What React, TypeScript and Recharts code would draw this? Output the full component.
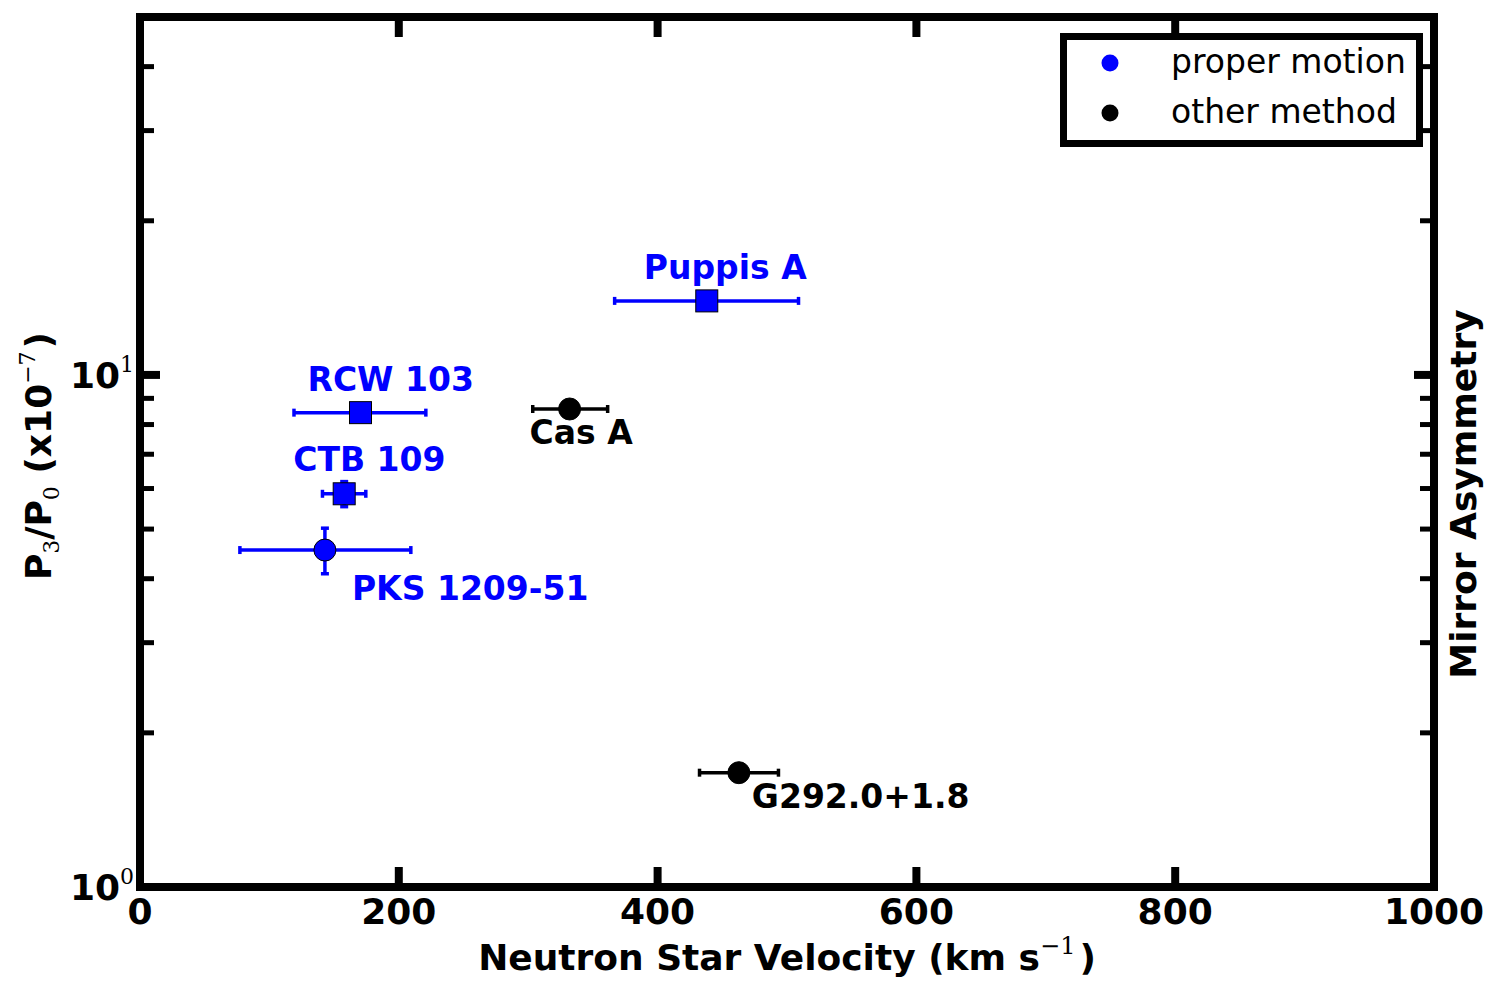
import React from 'react';
import { ScatterChart, Scatter, XAxis, YAxis, ErrorBar, ReferenceArea, Legend, Label } from 'recharts';

// ---- data ----
const SOURCES = ['Puppis A', 'RCW 103', 'CTB 109', 'PKS 1209-51', 'Cas A', 'G292.0+1.8'];
const METHODS = ['proper motion', 'proper motion', 'proper motion', 'proper motion', 'other method', 'other method'];
const VELOCITY = [438, 170.4, 157.8, 142.9, 332, 462.8];
const VELOCITY_LOW = [366.8, 119, 141, 77.2, 303.5, 432.4];
const VELOCITY_HIGH = [508.9, 220.9, 174.5, 209.3, 361.4, 493.4];
const RATIO = [13.95, 8.44, 5.86, 4.55, 8.58, 1.672];
const RATIO_LOW = [13.95, 8.44, 5.53, 4.09, 8.58, 1.672];
const RATIO_HIGH = [13.95, 8.44, 6.19, 5.02, 8.58, 1.672];

const X_TICKS = [0, 200, 400, 600, 800, 1000];
const Y_TICKS = [1, 2, 3, 4, 5, 6, 7, 8, 9, 10, 20, 30, 40];
const Y_DECADES: Record<number, string> = { 1: '0', 10: '1' };

const SERIES = [
  { method: 'proper motion', color: '#0000ff' },
  { method: 'other method', color: '#000000' },
];

// ---- styling ----
const MARKER_SHAPE: Record<string, 'square' | 'circle'> = {
  'Puppis A': 'square',
  'RCW 103': 'square',
  'CTB 109': 'square',
  'PKS 1209-51': 'circle',
  'Cas A': 'circle',
  'G292.0+1.8': 'circle',
};
// text start / baseline, relative to the marker centre
const LABEL_OFFSET: Record<string, [number, number]> = {
  'Puppis A': [-63, -22],
  'RCW 103': [-53, -22],
  'CTB 109': [-51, -23],
  'PKS 1209-51': [27, 50],
  'Cas A': [-40, 35],
  'G292.0+1.8': [13, 35],
};

const SANS = "'DejaVu Sans', 'Liberation Sans', sans-serif";
const SERIF = "'DejaVu Serif', 'Liberation Serif', serif";

const CHART_W = 1483;
const CHART_H = 985;
const PLOT_LEFT = 132;
const PLOT_RIGHT = 1426;
const PLOT_TOP = 9;
const PLOT_BOTTOM = 879;
const MARKER = 22;

const rows = SOURCES.map((name, i) => ({
  name,
  method: METHODS[i],
  x: VELOCITY[i],
  y: RATIO[i],
  xErr: [VELOCITY[i] - VELOCITY_LOW[i], VELOCITY_HIGH[i] - VELOCITY[i]],
  yErr: [RATIO[i] - RATIO_LOW[i], RATIO_HIGH[i] - RATIO[i]],
}));

const XTick = (props: any) => {
  const { x, payload } = props;
  return (
    <g>
      <line x1={x} x2={x} y1={PLOT_BOTTOM} y2={PLOT_BOTTOM - 20} stroke="#000" strokeWidth={8} />
      <line x1={x} x2={x} y1={PLOT_TOP} y2={PLOT_TOP + 20} stroke="#000" strokeWidth={8} />
      <text x={x} y={PLOT_BOTTOM + 37} textAnchor="middle" fontFamily={SANS} fontWeight="bold" fontSize={36} fill="#000">
        {payload.value}
      </text>
    </g>
  );
};

const YTick = (props: any) => {
  const { y, payload } = props;
  const exp = Y_DECADES[payload.value];
  const major = exp !== undefined;
  const len = major ? 20 : 14;
  const w = major ? 8 : 5;
  return (
    <g>
      <line x1={PLOT_LEFT} x2={PLOT_LEFT + len} y1={y} y2={y} stroke="#000" strokeWidth={w} />
      <line x1={PLOT_RIGHT} x2={PLOT_RIGHT - len} y1={y} y2={y} stroke="#000" strokeWidth={w} />
      {major && (
        <text x={PLOT_LEFT - 6} y={y + 13} textAnchor="end" fontFamily={SANS} fontWeight="bold" fontSize={36} fill="#000">
          10
          <tspan fontFamily={SERIF} fontWeight="normal" fontSize={22} dy={-16}>
            {exp}
          </tspan>
        </text>
      )}
    </g>
  );
};

const makePoint = (color: string) => (props: any) => {
  const { cx, cy, payload } = props;
  if (cx == null || cy == null) return <g />;
  const name: string = payload.name;
  const [dx, dy] = LABEL_OFFSET[name];
  const h = MARKER / 2;
  return (
    <g>
      {MARKER_SHAPE[name] === 'square' ? (
        <rect x={cx - h} y={cy - h} width={MARKER} height={MARKER} fill={color} stroke="#000" strokeWidth={1} />
      ) : (
        <circle cx={cx} cy={cy} r={h} fill={color} stroke="#000" strokeWidth={1} />
      )}
      <text x={cx + dx} y={cy + dy} fill={color} fontFamily={SANS} fontWeight="bold" fontSize={33}>
        {name}
      </text>
    </g>
  );
};

// legend entries keep the series order
const LegendBox = (props: any) => {
  const fromPayload = new Map<string, string>();
  (props.payload || []).forEach((p: any) => fromPayload.set(p.value, p.color));
  const items = SERIES.map((s) => ({ method: s.method, color: fromPayload.get(s.method) || s.color }));
  return (
    <svg width={363} height={114} style={{ display: 'block' }}>
      <rect x={3.5} y={3.5} width={356} height={107} fill="#fff" stroke="#000" strokeWidth={7} />
      {items.map((it, i) => (
        <g key={it.method}>
          <circle cx={50} cy={30 + 50 * i} r={8.5} fill={it.color} />
          <text x={111} y={40 + 50 * i} fontFamily={SANS} fontSize={33} fill="#000">
            {it.method}
          </text>
        </g>
      ))}
    </svg>
  );
};

const XTitle = () => (
  <text x={(PLOT_LEFT + PLOT_RIGHT) / 2} y={962} textAnchor="middle" fontFamily={SANS} fontWeight="bold" fontSize={36} fill="#000">
    Neutron Star Velocity (km s
    <tspan fontFamily={SERIF} fontWeight="normal" fontSize={24} dy={-16}>−1</tspan>
    <tspan dy={16} dx={4}>)</tspan>
  </text>
);

const YTitle = () => (
  <text transform="translate(43, 448) rotate(-90)" textAnchor="middle" fontFamily={SANS} fontWeight="bold" fontSize={36} fill="#000">
    P
    <tspan fontFamily={SERIF} fontWeight="normal" fontSize={22} dy={8}>3</tspan>
    <tspan dy={-8}>/P</tspan>
    <tspan fontFamily={SERIF} fontWeight="normal" fontSize={22} dy={8}>0</tspan>
    <tspan dy={-8}>{' (x10'}</tspan>
    <tspan fontFamily={SERIF} fontWeight="normal" fontSize={22} dy={-16}>−7</tspan>
    <tspan dy={16} dx={3}>)</tspan>
  </text>
);

const RightTitle = () => (
  <text transform="translate(1468, 486) rotate(-90)" textAnchor="middle" fontFamily={SANS} fontWeight="bold" fontSize={36} fill="#000">
    Mirror Asymmetry
  </text>
);

export default function App() {
  return (
    <div style={{ width: CHART_W, height: CHART_H, background: '#fff' }}>
      <ScatterChart width={CHART_W} height={CHART_H} margin={{ top: PLOT_TOP, right: 0, bottom: 0, left: 0 }}>
        <XAxis
          type="number"
          dataKey="x"
          domain={[0, 1000]}
          ticks={X_TICKS}
          interval={0}
          height={CHART_H - PLOT_BOTTOM}
          tick={<XTick />}
          tickLine={false}
          axisLine={false}
          allowDataOverflow
        >
          <Label content={<XTitle />} />
        </XAxis>
        <YAxis
          type="number"
          dataKey="y"
          scale="log"
          domain={[1, 50]}
          ticks={Y_TICKS}
          interval={0}
          width={PLOT_LEFT}
          tick={<YTick />}
          tickLine={false}
          axisLine={false}
          allowDataOverflow
        >
          <Label content={<YTitle />} />
        </YAxis>
        <YAxis
          yAxisId="right"
          orientation="right"
          type="number"
          scale="log"
          domain={[1, 50]}
          width={CHART_W - PLOT_RIGHT}
          tick={false}
          tickLine={false}
          axisLine={false}
          allowDataOverflow
        >
          <Label content={<RightTitle />} />
        </YAxis>
        <ReferenceArea x1={0} x2={1000} y1={1} y2={50} fill="none" stroke="#000" strokeWidth={8} />
        {SERIES.map((s) => (
          <Scatter
            key={s.method}
            name={s.method}
            data={rows.filter((r) => r.method === s.method)}
            fill={s.color}
            shape={makePoint(s.color)}
            isAnimationActive={false}
          >
            <ErrorBar dataKey="xErr" direction="x" width={4} stroke={s.color} strokeWidth={3.5} isAnimationActive={false} />
            <ErrorBar dataKey="yErr" direction="y" width={4} stroke={s.color} strokeWidth={3.5} isAnimationActive={false} />
          </Scatter>
        ))}
        <Legend
          layout="horizontal"
          verticalAlign="middle"
          align="center"
          wrapperStyle={{ left: 1052, top: 25, width: 363, height: 114 }}
          content={<LegendBox />}
        />
      </ScatterChart>
    </div>
  );
}
